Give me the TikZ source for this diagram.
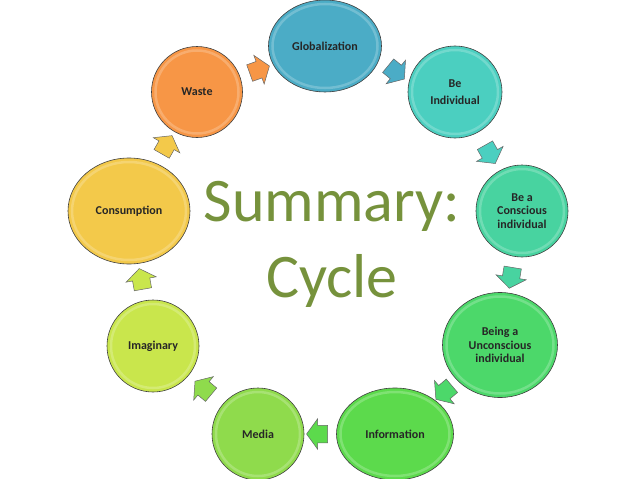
\documentclass[tikz,border=0pt]{standalone}
\usepackage{fontspec}
\setmainfont{Carlito}
\usetikzlibrary{shapes.geometric,shapes.arrows,calc}
\definecolor{cglob}{HTML}{4BACC6}
\definecolor{cbeind}{HTML}{4BCFC0}
\definecolor{cconsc}{HTML}{48D3A0}
\definecolor{cuncon}{HTML}{4CD86A}
\definecolor{cinfo}{HTML}{5CDA4C}
\definecolor{cmedia}{HTML}{8FDB4C}
\definecolor{cimag}{HTML}{C9E64C}
\definecolor{ccons}{HTML}{F3C94A}
\definecolor{cwaste}{HTML}{F79646}
\definecolor{ctitle}{HTML}{76923C}
\tikzset{
  stage/.style={ellipse, draw=black!75, line width=0.6pt, inner sep=0pt,
    font=\fontsize{12}{13.5}\selectfont\bfseries, align=center, text=black!85,
    path picture={\draw[white, opacity=0.22, line width=2.5pt]
      let \p1=(path picture bounding box.north east), \p2=(path picture bounding box.center)
      in (\p2) ellipse [x radius={\x1-\x2-4pt}, y radius={\y1-\y2-4pt}];}},
  blockarrow/.style={single arrow, draw=black!60, line width=0.5pt,
    inner xsep=2pt, inner ysep=8.5pt,
    minimum height=21pt, single arrow head extend=6.5pt, single arrow tip angle=108,
    sloped, allow upside down, pos=0.5},
}
\begin{document}
\begin{tikzpicture}[x=1pt,y=-1pt]
\useasboundingbox (0,0) rectangle (638,479);
\node[stage, fill=cglob, minimum width=113pt, minimum height=92pt] (glob) at (325,46) {Globalization};
\node[stage, fill=cbeind, minimum width=94pt, minimum height=92pt] (beind) at (455,92) {Be\\[4pt]Individual};
\node[stage, fill=cconsc, minimum width=92pt, minimum height=92pt] (consc) at (522,211) {Be a\\Conscious\\individual};
\node[stage, fill=cuncon, minimum width=115pt, minimum height=105pt] (uncon) at (500,345) {Being a\\Unconscious\\individual};
\node[stage, fill=cinfo, minimum width=117pt, minimum height=92pt] (info) at (395,434) {Information};
\node[stage, fill=cmedia, minimum width=92pt, minimum height=92pt] (media) at (258,434) {Media};
\node[stage, fill=cimag, minimum width=92pt, minimum height=92pt] (imag) at (153,346) {Imaginary};
\node[stage, fill=ccons, minimum width=122pt, minimum height=106pt] (cons) at (129,211) {Consumption};
\node[stage, fill=cwaste, minimum width=91pt, minimum height=91pt] (waste) at (197,92) {Waste};
\node[text=ctitle, font=\fontsize{62}{76}\selectfont, align=center] (title) at (332,244) {Summary:\\Cycle};
\path (waste) -- node[blockarrow, fill=cwaste] (a1) {} (glob);
\path (glob) -- node[blockarrow, fill=cglob, rotate=-20] (a2) {} (beind);
\path (beind) -- node[blockarrow, fill=cbeind] (a3) {} (consc);
\path (consc) -- node[blockarrow, fill=cconsc] (a4) {} (uncon);
\path (uncon) -- node[blockarrow, fill=cuncon] (a5) {} (info);
\path (info) -- node[blockarrow, fill=cinfo] (a6) {} (media);
\path (media) -- node[blockarrow, fill=cmedia] (a7) {} (imag);
\path (imag) -- node[blockarrow, fill=cimag] (a8) {} (cons);
\path (cons) -- node[blockarrow, fill=ccons] (a9) {} (waste);
\end{tikzpicture}
\end{document}
